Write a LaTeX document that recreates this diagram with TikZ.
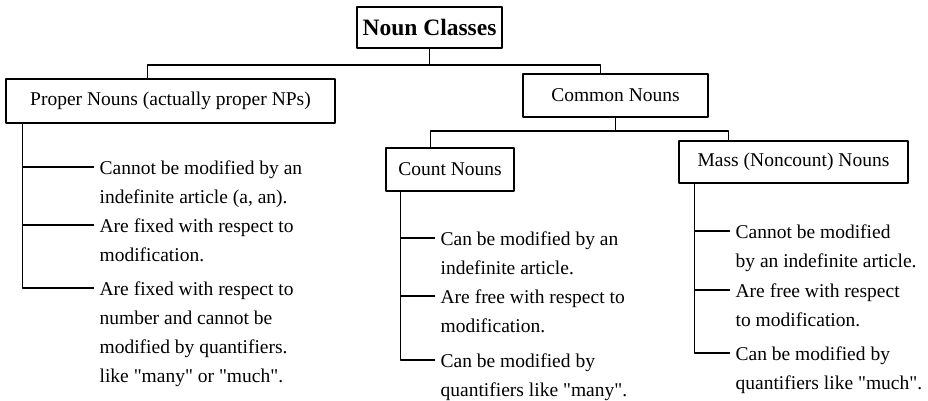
\documentclass[tikz,border=0pt]{standalone}
\usepackage{fontspec}
\setmainfont{Liberation Serif}[Ligatures=TeXOff]
\begin{document}
\begin{tikzpicture}[x=1pt,y=-1pt,line width=1.3pt,line join=round,
		font=\fontsize{19.5}{29.5}\selectfont,
		box/.style={draw,inner sep=0pt},
		item/.style={anchor=north west,align=left,inner sep=0pt}]
			\useasboundingbox (0,0) rectangle (928,401);
			% the class boxes
			\node[box,minimum width=145,minimum height=41,font=\fontsize{23.5}{28}\selectfont\bfseries] (classes) at (429.5,27.5) {Noun Classes};
			\node[box,minimum width=329,minimum height=44] (proper) at (170.5,101) {Proper Nouns (actually proper NPs)};
			\node[box,minimum width=185,minimum height=43] (common) at (615.5,95.5) {Common Nouns};
			\node[box,minimum width=128,minimum height=43] (count) at (450,169.5) {Count Nouns};
			\node[box,minimum width=229,minimum height=42] (mass) at (793.5,162) {Mass (Noncount) Nouns};
			% the tree
			\coordinate (j1) at (429.5,65);
			\coordinate (j2) at (615.5,131);
			\draw (classes.south) -- (j1);
			\draw ([xshift=142pt]proper.north west) |- (j1) -| ([xshift=78pt]common.north west);
			\draw (common.south) -- (j2);
			\draw ([xshift=45pt]count.north west) |- (j2) -| ([xshift=50pt]mass.north west);
			% properties
			\node[item] (p1) at (99,160) {Cannot be modified by an\\indefinite article (a, an).};
			\node[item] (p2) at (99,218) {Are fixed with respect to\\modification.};
			\node[item,font=\fontsize{19.5}{29}\selectfont] (p3) at (99,281) {Are fixed with respect to\\number and cannot be\\modified by quantifiers.\\like "many" or "much".};
			\node[item] (c1) at (440,231) {Can be modified by an\\indefinite article.};
			\node[item] (c2) at (440,289) {Are free with respect to\\modification.};
			\node[item] (c3) at (440,353) {Can be modified by\\quantifiers like "many".};
			\node[item] (m1) at (735,224) {Cannot be modified\\by an indefinite article.};
			\node[item] (m2) at (735,283) {Are free with respect\\to modification.};
			\node[item] (m3) at (735,346) {Can be modified by\\quantifiers like "much".};
			\foreach \nd/\lt/\dx in {proper/p/17,count/c/15,mass/m/16}
			{\coordinate (\lt v) at ([xshift=\dx pt]\nd.south west);
				\foreach \i in {1,2,3}
					\coordinate (\lt\i t) at ([xshift=-5pt,yshift=-7pt]\lt\i.north west);
				\draw (\lt v) |- (\lt3t);
				\foreach \i in {1,2}
					\draw (\lt\i t -| \lt v) -- (\lt\i t);}
	\end{tikzpicture}
\end{document}
